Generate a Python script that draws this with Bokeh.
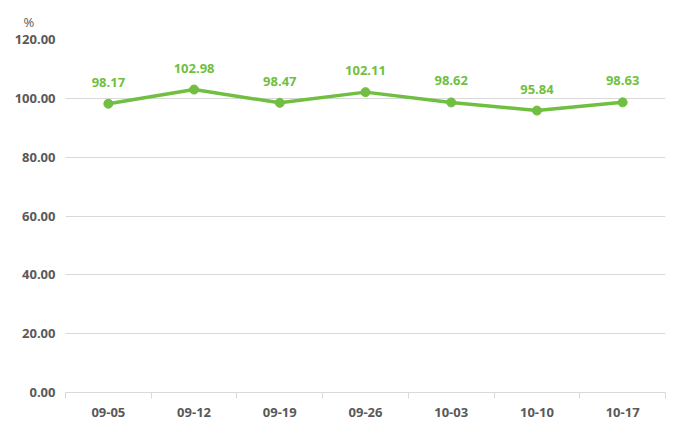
from bokeh.plotting import figure
from bokeh.models import (ColumnDataSource, FixedTicker, NumeralTickFormatter,
                          Range1d, LabelSet)
from bokeh.core.properties import value
from bokeh.embed import file_html
from bokeh.resources import INLINE

dates = ["09-05", "09-12", "09-19", "09-26", "10-03", "10-10", "10-17"]
values = [98.17, 102.98, 98.47, 102.11, 98.62, 95.84, 98.63]
y_ticks = [0, 20, 40, 60, 80, 100, 120]
unit = "%"

GREEN = "#70BF41"
GREY = "#595959"
FONT = "Open Sans"

xs = list(range(1, len(dates) + 1))
src = ColumnDataSource(dict(x=xs, y=values, label=[f"{v:.2f}" for v in values]))

p = figure(width=672, height=425, output_backend="svg", toolbar_location=None,
           x_range=Range1d(0.5, len(dates) + 0.5), y_range=Range1d(0, 120),
           min_border_left=65, min_border_right=7, min_border_top=39,
           min_border_bottom=33, title=unit)
p.outline_line_color = None
p.background_fill_color = "white"
p.border_fill_color = "white"

p.title.align = "left"
p.title.offset = -42
p.title.standoff = 18
p.title.text_color = GREY
p.title.text_font = FONT
p.title.text_font_size = "13px"
p.title.text_font_style = "normal"

p.line("x", "y", source=src, line_color=GREEN, line_width=3.5)
p.scatter("x", "y", source=src, size=9, fill_color=GREEN, line_color=GREEN)

labels = LabelSet(x="x", y="y", text="label", source=src, y_offset=17,
                  text_align="center", text_baseline="bottom",
                  text_color=GREEN, text_font=value(FONT), text_font_size="13px",
                  text_font_style="bold")
p.add_layout(labels)

# x axis
xa = p.xaxis[0]
xa.ticker = FixedTicker(ticks=xs, minor_ticks=[x - 0.5 for x in xs] + [len(xs) + 0.5])
xa.major_label_overrides = {x: d for x, d in zip(xs, dates)}
xa.major_tick_line_color = None
xa.major_tick_in = 0
xa.major_tick_out = 0
xa.minor_tick_in = 0
xa.minor_tick_out = 6
xa.minor_tick_line_color = "#d9d9d9"
xa.axis_line_color = "#d9d9d9"
xa.axis_line_width = 1
xa.major_label_text_color = GREY
xa.major_label_text_font = FONT
xa.major_label_text_font_size = "13px"
xa.major_label_text_font_style = "bold"
xa.major_label_standoff = 9
p.xgrid.grid_line_color = None

# y axis
ya = p.yaxis[0]
ya.ticker = FixedTicker(ticks=y_ticks)
ya.formatter = NumeralTickFormatter(format="0.00")
ya.axis_line_color = None
ya.major_tick_line_color = None
ya.major_tick_in = 0
ya.major_tick_out = 0
ya.minor_tick_line_color = None
ya.major_label_text_color = GREY
ya.major_label_text_font = FONT
ya.major_label_text_font_size = "13px"
ya.major_label_text_font_style = "bold"
ya.major_label_standoff = 10
p.ygrid.ticker = FixedTicker(ticks=y_ticks[1:])
p.ygrid.grid_line_color = "#d9d9d9"
p.ygrid.grid_line_width = 1

open("out.html", "w").write(file_html(p, INLINE))
